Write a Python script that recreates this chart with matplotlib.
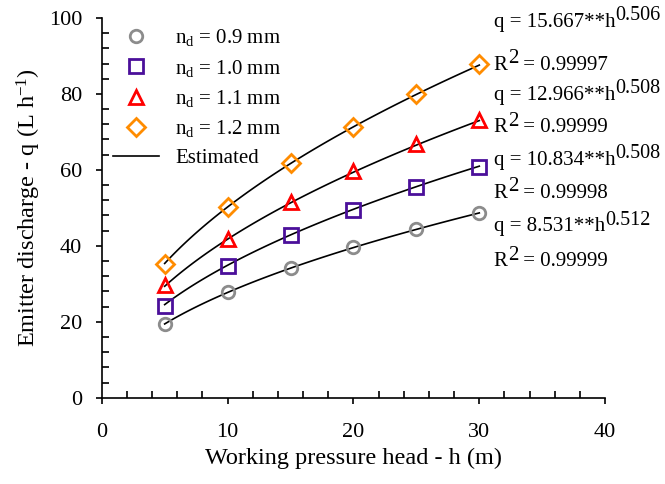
import matplotlib
matplotlib.use("Agg")
import matplotlib.pyplot as plt
import numpy as np

plt.rcParams['font.family'] = ['Liberation Serif', 'DejaVu Serif']
plt.rcParams['mathtext.fontset'] = 'custom'
plt.rcParams['mathtext.rm'] = 'Liberation Serif'
plt.rcParams['mathtext.it'] = 'Liberation Serif'

# pressure head (m)
h = [5, 10, 15, 20, 25, 30]
# measured discharge (L/h) for each nozzle diameter
q09 = [19.5, 27.8, 34.3, 39.6, 44.4, 48.7]
q10 = [24.3, 34.8, 42.8, 49.4, 55.6, 60.7]
q11 = [29.6, 41.9, 51.5, 59.6, 66.7, 73.2]
q12 = [35.3, 50.2, 61.8, 71.3, 79.9, 87.8]
labels = ['0.9', '1.0', '1.1', '1.2']
# fitted power law q = k*h^x
k = ['8.531', '10.834', '12.966', '15.667']
x = ['0.512', '0.508', '0.508', '0.506']
r2 = ['0.99999', '0.99998', '0.99999', '0.99997']

series = [q09, q10, q11, q12]
markers = ['o', 's', '^', 'D']
colors = ['#8c8c8c', '#4b0f9a', '#ff0000', '#ff8c00']
msizes = [9, 10, 10, 9]

fig = plt.figure(figsize=(6.65, 4.84), dpi=100)
ax = fig.add_axes([0.153, 0.178, 0.757, 0.785])

hh = np.linspace(h[0], h[-1], 100)
for i in range(4):
    ax.plot(hh, float(k[i]) * hh ** float(x[i]), color='black', lw=1.2, zorder=2)
for i in range(4):
    ax.plot(h, series[i], linestyle='none', marker=markers[i], ms=msizes[i],
            mfc='none', mec=colors[i], mew=2, zorder=3,
            label=r'$\mathrm{n_d}$ = ' + labels[i] + ' mm')
ax.plot([], [], color='black', lw=1.2, label='Estimated')

# equation labels, superscripts drawn as separate texts
eq_y = [(45.0, 35.8), (62.6, 53.9), (79.7, 71.1), (98.9, 87.6)]
fs = 15
for i in range(4):
    t1 = ax.text(31.15, eq_y[i][0], 'q = ' + k[i] + '**h',
                 fontsize=fs, va='center', ha='left', clip_on=False)
    ax.annotate(x[i], xy=(1.0, 0.6), xycoords=t1, fontsize=fs - 0.5,
                va='baseline', ha='left', annotation_clip=False)
    t2 = ax.text(31.15, eq_y[i][1], 'R',
                 fontsize=fs, va='center', ha='left', clip_on=False)
    t3 = ax.annotate('2', xy=(1.0, 0.6), xycoords=t2, fontsize=fs,
                     va='baseline', ha='left', annotation_clip=False)
    ax.annotate(' = ' + r2[i], xy=(1.0, 0.0), xycoords=(t3, t2), fontsize=fs,
                va='bottom', ha='left', annotation_clip=False)

ax.set_xlim(0, 40)
ax.set_ylim(0, 100)
ax.set_xticks([0, 10, 20, 30, 40])
ax.set_xticks(np.arange(0, 41, 2), minor=True)
ax.set_yticks([0, 20, 40, 60, 80, 100])
ax.set_yticks(np.arange(0, 101, 4), minor=True)
ax.tick_params(which='both', labelsize=16, width=1.2)
ax.tick_params(which='major', direction='out', length=4)
ax.tick_params(axis='x', which='major', pad=14)
ax.tick_params(axis='y', which='major', pad=10)
ax.tick_params(which='minor', direction='in', length=5)
for s in ['top', 'right']:
    ax.spines[s].set_visible(False)
for s in ['left', 'bottom']:
    ax.spines[s].set_linewidth(1.2)

ax.set_xlabel('Working pressure head - h (m)', fontsize=17.5, labelpad=4)
ax.set_ylabel('Emitter discharge - q (L h$^{-1}$)', fontsize=17.5, labelpad=4)

ax.legend(loc='upper left', bbox_to_anchor=(-0.015, 1.025), frameon=False,
          fontsize=15, handlelength=2.2, labelspacing=0.45)

fig.savefig('out.png', dpi=100)
